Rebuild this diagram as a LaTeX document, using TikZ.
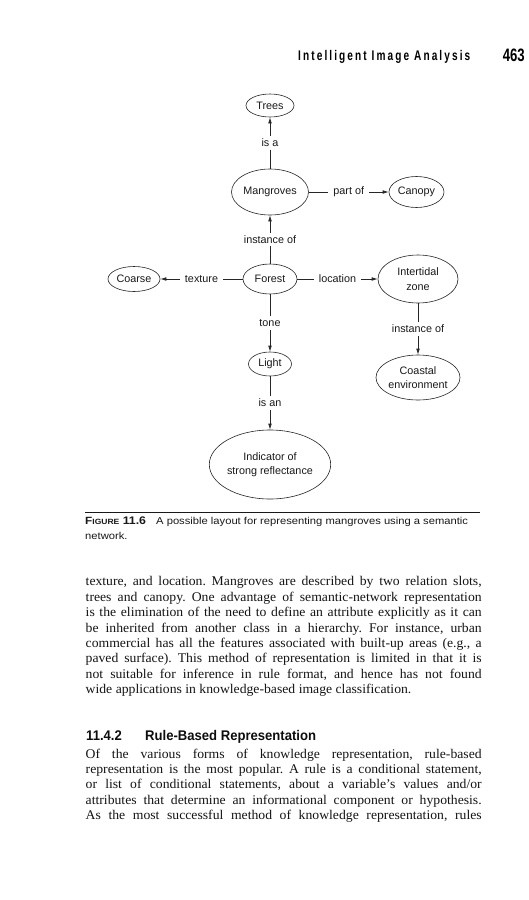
\documentclass[tikz,border=0pt]{standalone}
\usepackage{fontspec}
\setmainfont{Liberation Serif}[FakeStretch=1.03]
\newfontfamily\sansf{Liberation Sans}
\newfontfamily\capf{Liberation Sans}[FakeStretch=1.12]
\newfontfamily\headf{Liberation Sans}[FakeStretch=0.72, LetterSpace=15]
\newfontfamily\numf{Liberation Sans}[FakeStretch=0.73]
\newfontfamily\secf{Liberation Sans}[FakeStretch=0.935]
\usetikzlibrary{arrows.meta,shapes.geometric}
\frenchspacing
\newcommand\jline[1]{\makebox[396pt][s]{#1}}
\tikzset{
  conc/.style={ellipse, draw=black!85, line width=0.6pt, inner sep=0pt, align=center,
    font=\sansf\fontsize{10.8}{14.5}\selectfont, text=black!90},
  rel/.style={draw=black!85, line width=0.6pt, -{Latex[length=6pt,width=3.6pt]}},
  rlab/.style={fill=white, inner xsep=5pt, inner ysep=3pt, midway,
    font=\sansf\fontsize{10.8}{13}\selectfont, text=black!90},
  bodyl/.style={anchor=base west, inner sep=0pt, font=\fontsize{13.3}{15}\selectfont, text=black!92},
}
\begin{document}
\begin{tikzpicture}[x=1pt,y=-1pt]
\useasboundingbox[fill=white] (0,0) rectangle (529,900);

% running head
\node[anchor=base west, inner sep=0pt, font=\headf\bfseries\fontsize{14}{16}\selectfont] (head) at (298,60) {Intelligent Image Analysis};
\node[anchor=base east, inner sep=0pt, font=\numf\bfseries\fontsize{18}{20}\selectfont] (pnum) at (525,61) {463};

% concepts
\node[conc, minimum width=48pt, minimum height=23pt] (trees) at (270,105.5) {Trees};
\node[conc, minimum width=77pt, minimum height=46pt] (mangroves) at (270,192) {Mangroves};
\node[conc, minimum width=55pt, minimum height=31pt] (canopy) at (416.5,192) {Canopy};
\node[conc, minimum width=54pt, minimum height=30pt] (forest) at (270,279) {Forest};
\node[conc, minimum width=52pt, minimum height=25pt] (coarse) at (134,279) {Coarse};
\node[conc, minimum width=80pt, minimum height=48pt] (intertidal) at (418,279) {Intertidal\\zone};
\node[conc, minimum width=79pt, minimum height=45pt] (coastal) at (418,377.5) {Coastal\\environment};
\node[conc, minimum width=43pt, minimum height=24pt] (light) at (270,364) {Light};
\node[conc, minimum width=120pt, minimum height=69pt] (indicator) at (270,464.5) {Indicator of\\strong reflectance};

% relations
\draw[rel] (mangroves) -- node[rlab] (l-isa) {is a} (trees);
\draw[rel] (forest) -- node[rlab] (l-inst1) {instance of} (mangroves);
\draw[rel] (mangroves) -- node[rlab] (l-part) {part of} (canopy);
\draw[rel] (forest) -- node[rlab] (l-tex) {texture} (coarse);
\draw[rel] (forest) -- node[rlab] (l-loc) {location} (intertidal);
\draw[rel] (intertidal) -- node[rlab] (l-inst2) {instance of} (coastal);
\draw[rel] (forest) -- node[rlab] (l-tone) {tone} (light);
\draw[rel] (light) -- node[rlab] (l-isan) {is an} (indicator);

% caption
\coordinate (rulel) at (85,512.5);
\coordinate (ruler) at (480,512.5);
\draw[line width=1.3pt, black!90] (rulel) -- (ruler);
\node[anchor=base west, inner sep=0pt, font=\capf\bfseries, text=black!90] (figlab) at (85,524.5)
  {\fontsize{10.5}{12}\selectfont F\fontsize{7.6}{12}\selectfont IGURE\fontsize{11}{12}\selectfont\ 11.6};
\node[anchor=base west, inner sep=0pt, font=\capf\fontsize{10}{12}\selectfont, text=black!90] (cap1) at (156,524.5)
  {A possible layout for representing mangroves using a semantic};
\node[anchor=base west, inner sep=0pt, font=\capf\fontsize{10}{12}\selectfont, text=black!90] (cap2) at (85,539)
  {network.};

% body paragraph 1
\node[bodyl] (p1) at (85.5,585.7) {\jline{texture, and location. Mangroves are described by two relation slots,}};
\node[bodyl] (p2) at (85.5,601.1) {\jline{trees and canopy. One advantage of semantic-network representation}};
\node[bodyl] (p3) at (85.5,616.6) {\jline{is the elimination of the need to define an attribute explicitly as it can}};
\node[bodyl] (p4) at (85.5,632.0) {\jline{be inherited from another class in a hierarchy. For instance, urban}};
\node[bodyl] (p5) at (85.5,647.4) {\jline{commercial has all the features associated with built-up areas (e.g., a}};
\node[bodyl] (p6) at (85.5,662.9) {\jline{paved surface). This method of representation is limited in that it is}};
\node[bodyl] (p7) at (85.5,678.3) {\jline{not suitable for inference in rule format, and hence has not found}};
\node[bodyl] (p8) at (85.5,693.7) {wide applications in knowledge-based image classification.};

% section heading
\node[anchor=base west, inner sep=0pt, font=\secf\bfseries\fontsize{14}{16}\selectfont, text=black!95] (secnum) at (86,740.7) {11.4.2};
\node[anchor=base west, inner sep=0pt, font=\secf\bfseries\fontsize{14}{16}\selectfont, text=black!95] (sectitle) at (145,740.7) {Rule-Based Representation};

% body paragraph 2
\node[bodyl] (q1) at (85.5,758.0) {\jline{Of the various forms of knowledge representation, rule-based}};
\node[bodyl] (q2) at (85.5,773.4) {\jline{representation is the most popular. A rule is a conditional statement,}};
\node[bodyl] (q3) at (85.5,788.8) {\jline{or list of conditional statements, about a variable’s values and/or}};
\node[bodyl] (q4) at (85.5,804.2) {\jline{attributes that determine an informational component or hypothesis.}};
\node[bodyl] (q5) at (85.5,819.6) {\jline{As the most successful method of knowledge representation, rules}};
\end{tikzpicture}
\end{document}
